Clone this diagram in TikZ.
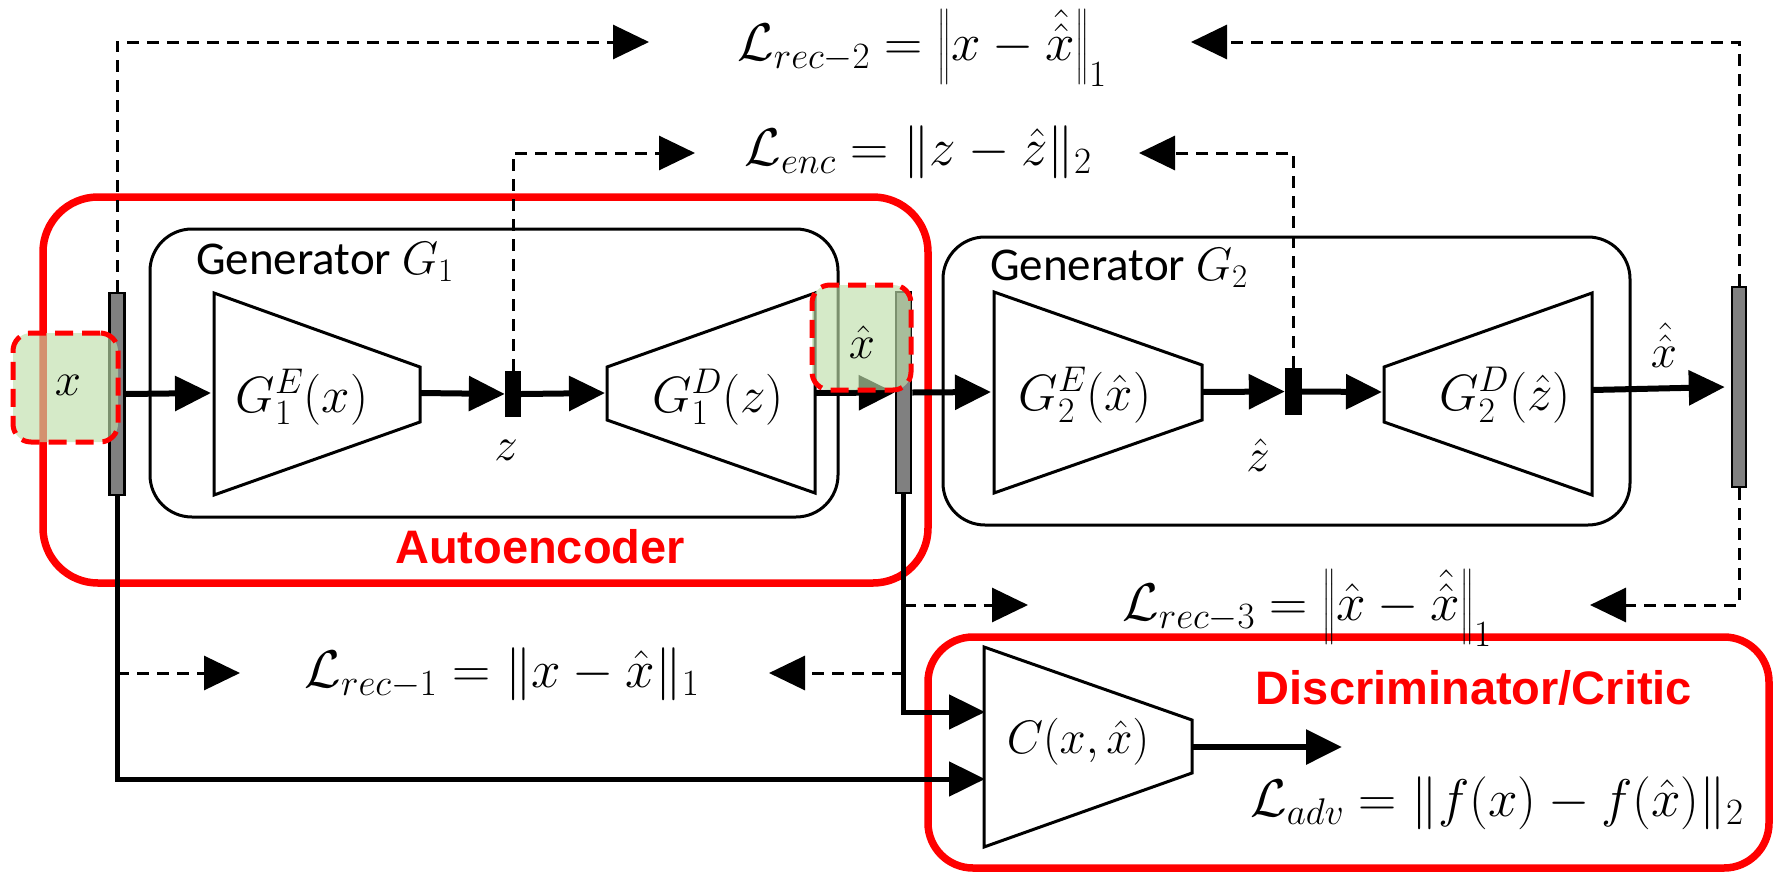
\RequirePackage{fix-cm}
\documentclass[tikz,border=0pt]{standalone}
\usepackage{amsmath}
\usepackage{fontspec}
\newfontfamily\genfont{Carlito}
\newfontfamily\labfont{Liberation Sans}
\usetikzlibrary{arrows.meta,calc}
\definecolor{redc}{RGB}{255,0,0}
\definecolor{greenc}{RGB}{190,222,170}
\definecolor{barc}{RGB}{128,128,128}
\begin{document}
\begin{tikzpicture}[x=1pt,y=-1pt,
  trap/.style={draw, line width=3pt, line join=miter},
  bar/.style={draw=black, fill=barc, line width=2.5pt, inner sep=0pt},
  latent/.style={fill=black, inner sep=0pt},
  genbox/.style={draw, line width=3pt, rounded corners=42pt, inner sep=0pt},
  redbox/.style={draw=redc, line width=7.5pt, rounded corners=55pt, inner sep=0pt},
  greenbox/.style={draw=redc, line width=5pt, dash pattern=on 18pt off 9pt, fill=greenc, fill opacity=0.65, draw opacity=1, rounded corners=18pt, inner sep=0pt},
  arr/.style={line width=6pt, -{Triangle[length=36pt,width=34pt]}},
  sarr/.style={line width=5pt, -{Triangle[length=36pt,width=34pt]}},
  dsh/.style={line width=3pt, dash pattern=on 12pt off 8pt, -{Triangle[length=36pt,width=34pt]}},
  mtxt/.style={font=\fontsize{47}{56}\selectfont, inner sep=0pt},
  btxt/.style={font=\fontsize{51}{60}\selectfont, inner sep=0pt},
  ftxt/.style={font=\fontsize{53}{62}\selectfont, inner sep=0pt},
  gtxt/.style={font=\genfont\fontsize{47}{56}\selectfont, inner sep=0pt, anchor=west},
  rtxt/.style={font=\labfont\bfseries\fontsize{47}{56}\selectfont, text=redc, inner sep=0pt}
]
\useasboundingbox (0,0) rectangle (1774,873);

% red group boxes
\node[redbox, minimum width=885pt, minimum height=386pt] (ae) at (485.5,390) {};
\node[redbox, rounded corners=45pt, minimum width=841pt, minimum height=231pt] (disc) at (1348.5,752.5) {};

% generator boxes
\node[genbox, minimum width=688pt, minimum height=288pt] (g1) at (494,373) {};
\node[genbox, minimum width=687pt, minimum height=288pt] (g2) at (1286.5,381) {};
\node[gtxt] (g1l) at (196,262) {Generator $G_1$};
\node[gtxt] (g2l) at (990,268) {Generator $G_2$};

% trapezoids
\draw[trap] (214,293) -- (420,367) -- (420,422) -- (214,495) -- cycle;
\draw[trap] (607,367) -- (815,293) -- (815,493) -- (607,420) -- cycle;
\draw[trap] (994,292) -- (1202,365) -- (1202,420) -- (994,493) -- cycle;
\draw[trap] (1384,367) -- (1592,293) -- (1592,495) -- (1384,422) -- cycle;
\draw[trap] (984,647) -- (1192,720) -- (1192,773) -- (984,847) -- cycle;

\node[btxt] (e1) at (302,397) {$G_1^E(x)$};
\node[btxt] (d1) at (718,397) {$G_1^D(z)$};
\node[btxt] (e2) at (1085,395) {$G_2^E(\hat{x})$};
\node[btxt] (d2) at (1505,395) {$G_2^D(\hat{z})$};
\node[mtxt] (cc) at (1078,742) {$C(x,\hat{x})$};

\coordinate (e1in) at (211,393);
\coordinate (e1out) at (420,393);
\coordinate (d1in) at (605,393);
\coordinate (d1out) at (815,393);
\coordinate (e2in) at (991,392);
\coordinate (e2out) at (1202,392);
\coordinate (d2in) at (1382,392);
\coordinate (d2out) at (1592,390);
\coordinate (cout) at (1192,747);
\coordinate (advtip) at (1342,747);
\coordinate (cin1) at (985,712);
\coordinate (cin2) at (985,779);

% bars
\node[bar, minimum width=15pt, minimum height=202pt] (b1) at (117,394) {};
\node[bar, minimum width=15pt, minimum height=201pt] (b2) at (903.5,392.5) {};
\node[bar, minimum width=14pt, minimum height=200pt] (b3) at (1739,387) {};
\node[latent, minimum width=16pt, minimum height=46pt] (zb) at (513,394) {};
\node[latent, minimum width=17pt, minimum height=47pt] (zhb) at (1293.5,391.5) {};
\node[mtxt] (zl) at (506,450) {$z$};
\node[mtxt] (zhl) at (1258,455) {$\hat{z}$};
\node[mtxt] (xhhl) at (1664,345) {$\hat{\hat{x}}$};

% main flow arrows
\draw[arr] (b1.east) -- (e1in);
\draw[arr] (e1out) -- (zb.west);
\draw[arr] (zb.east) -- (d1in);
\draw[arr] (d1out) -- (b2.west);
\draw[arr] (b2.east) -- (e2in);
\draw[arr] (e2out) -- (zhb.west);
\draw[arr] (zhb.east) -- (d2in);
\draw[arr] (d2out) -- ([xshift=-6pt]b3.west);
\draw[arr] (cout) -- (advtip);

% loss formula texts
\node[ftxt] (lrec2) at (922,48) {$\mathcal{L}_{rec-2} = \left\|x - \hat{\hat{x}}\right\|_1$};
\node[ftxt] (lenc) at (918,152) {$\mathcal{L}_{enc} = \|z - \hat{z}\|_2$};
\node[ftxt] (lrec1) at (502,674) {$\mathcal{L}_{rec-1} = \|x - \hat{x}\|_1$};
\node[ftxt] (lrec3) at (1307,608) {$\mathcal{L}_{rec-3} = \left\|\hat{x} - \hat{\hat{x}}\right\|_1$};
\node[ftxt] (ladv) at (1497,803) {$\mathcal{L}_{adv} = \|f(x) - f(\hat{x})\|_2$};

\coordinate (t2l) at (649,42);
\coordinate (t2r) at (1191,42);
\coordinate (tel) at (695,153);
\coordinate (ter) at (1139,153);
\coordinate (r1l) at (240,673);
\coordinate (r1r) at (769,673);
\coordinate (r3l) at (1028,605);
\coordinate (r3r) at (1590,605);

% dashed loss connectors
\draw[dsh] (b1.north) |- (t2l);
\draw[dsh] (b3.north) |- (t2r);
\draw[dsh] (zb.north) |- (tel);
\draw[dsh] (zhb.north) |- (ter);
\draw[dsh] (b1.south |- r1l) -- (r1l);
\draw[dsh] (b2.south |- r1r) -- (r1r);
\draw[dsh] (b2.south |- r3l) -- (r3l);
\draw[dsh] (b3.south) |- (r3r);

% solid connectors to critic
\draw[sarr] (b1.south) |- (cin2);
\draw[sarr] (b2.south) |- (cin1);

% green highlight boxes
\node[greenbox, minimum width=105pt, minimum height=109pt] (xbox) at (65.5,387.5) {};
\node[greenbox, minimum width=99pt, minimum height=105pt] (xhbox) at (861.5,337.5) {};
\node[mtxt] (xl) at (68,385) {$x$};
\node[mtxt] (xhl) at (862,342) {$\hat{x}$};

% group labels
\node[rtxt] (ael) at (540,547) {Autoencoder};
\node[rtxt] (discl) at (1474,688) {Discriminator/Critic};
\end{tikzpicture}
\end{document}
